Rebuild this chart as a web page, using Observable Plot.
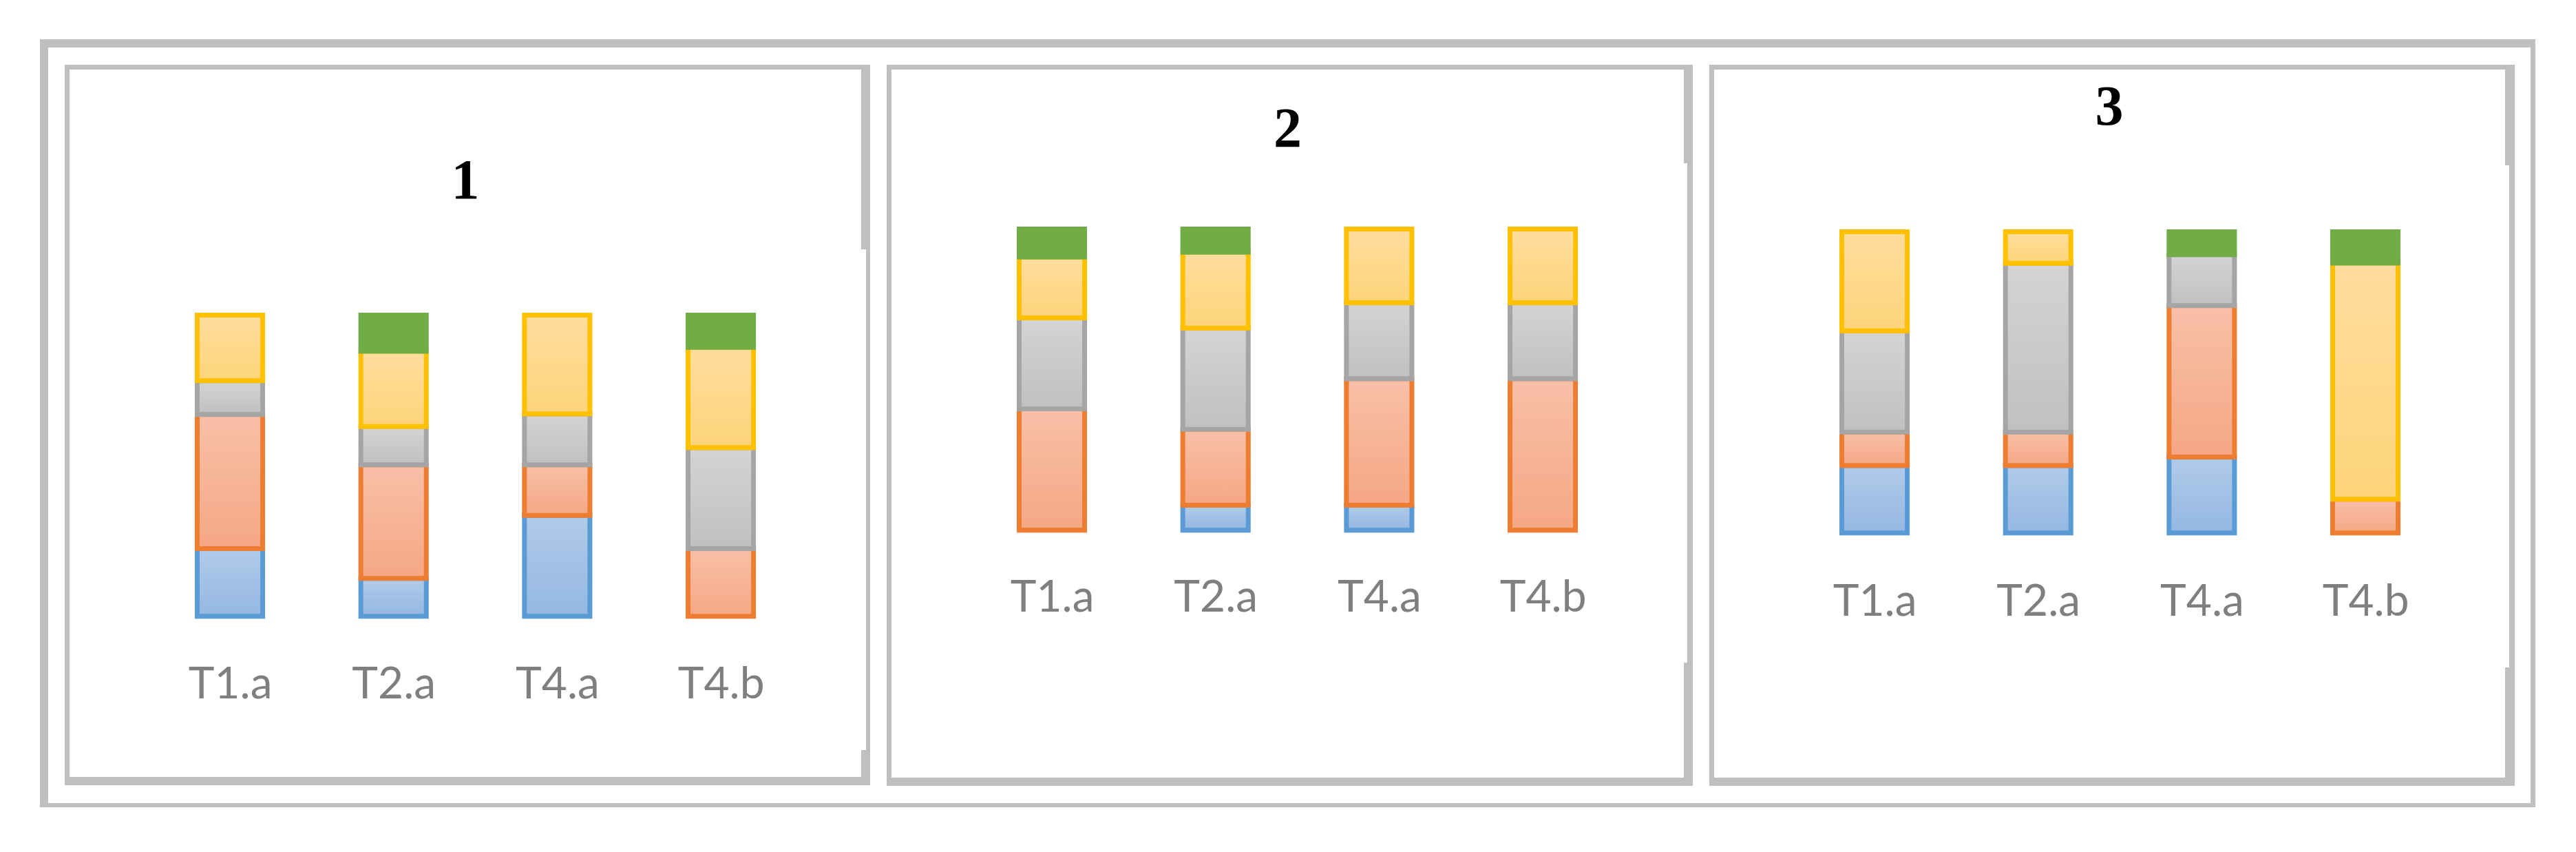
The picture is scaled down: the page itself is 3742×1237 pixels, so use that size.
<!DOCTYPE html>
<html>
<head>
<meta charset="utf-8">
<script src="https://cdn.jsdelivr.net/npm/d3@7"></script>
<script src="https://cdn.jsdelivr.net/npm/@observablehq/plot@0.6"></script>
<style>
  html, body { margin: 0; padding: 0; background: #fff; }
  #root { position: relative; width: 3742px; height: 1237px; overflow: hidden; background: #fff; }
  .frame { position: absolute; box-sizing: border-box; border-style: solid; border-color: #bfbfbf; }
  .strip { position: absolute; background: #bfbfbf; }
  .panel { position: absolute; top: 0; }
  .panel svg { display: block; }
</style>
</head>
<body>
<svg width="0" height="0" style="position:absolute;left:0;top:0">
  <defs>
    <linearGradient id="g-blue" x1="0" y1="0" x2="0" y2="1">
      <stop offset="0" stop-color="#b1cbe9"/><stop offset="1" stop-color="#94b7e2"/>
    </linearGradient>
    <linearGradient id="g-orange" x1="0" y1="0" x2="0" y2="1">
      <stop offset="0" stop-color="#f8c0a8"/><stop offset="1" stop-color="#f5a784"/>
    </linearGradient>
    <linearGradient id="g-gray" x1="0" y1="0" x2="0" y2="1">
      <stop offset="0" stop-color="#d4d4d4"/><stop offset="1" stop-color="#c0c0c0"/>
    </linearGradient>
    <linearGradient id="g-yellow" x1="0" y1="0" x2="0" y2="1">
      <stop offset="0" stop-color="#ffdd9e"/><stop offset="1" stop-color="#fed47a"/>
    </linearGradient>
  </defs>
</svg>
<div id="root"></div>
<script>
// ---------- data ----------
const categories = ["T1.a", "T2.a", "T4.a", "T4.b"];
const seriesNames = ["S1", "S2", "S3", "S4", "S5"];
const panelTitles = ["1", "2", "3"];

// rows = series (S1 bottom ... S5 top), columns = categories; percent of each column
const panel1Values = [
  [22.5, 12.6, 33.5, 0],
  [44.6, 37.7, 16.8, 22.5],
  [11.2, 12.7, 16.9, 33.5],
  [21.8, 25.0, 32.8, 33.3],
  [0, 12.0, 0, 10.7]
];
const panel2Values = [
  [0, 8.3, 8.3, 0],
  [40.3, 25.2, 42.0, 50.3],
  [30.2, 33.6, 25.2, 25.2],
  [20.2, 25.2, 24.5, 24.5],
  [9.3, 7.7, 0, 0]
];
const panel3Values = [
  [22.4, 22.4, 25.2, 0],
  [11.1, 11.1, 50.3, 11.2],
  [33.6, 56.1, 16.9, 0],
  [32.9, 10.5, 0, 78.4],
  [0, 0, 7.6, 10.4]
];

// ---------- styles ----------
const seriesFill = ["url(#g-blue)", "url(#g-orange)", "url(#g-gray)", "url(#g-yellow)", "#70ad47"];
const seriesStroke = ["#5b9bd5", "#ed7d31", "#a5a5a5", "#ffc000", "#70ad47"];

// ---------- layout ----------
const panelLeft = [94, 1288, 2483];
const panelWidth = 1170;
const barTop = [457.5, 332.5, 336.5];
const barBottom = [894.8, 769.8, 773.8];
const labelPad = [73.2, 72.3, 73.8];
const titleBaseline = [287, 212, 180];
const titleCenter = [581.5, 582, 580.5];
const PAGE_H = 1237;
const mLeft = 121.2, mRight = 98.1;

const root = document.getElementById("root");

function addFrame(left, top, width, height, bw) {
  const d = document.createElement("div");
  d.className = "frame";
  Object.assign(d.style, {left: left + "px", top: top + "px", width: width + "px", height: height + "px", borderWidth: bw});
  root.appendChild(d);
}
function addStrip(left, top, width, height) {
  const d = document.createElement("div");
  d.className = "strip";
  Object.assign(d.style, {left: left + "px", top: top + "px", width: width + "px", height: height + "px"});
  root.appendChild(d);
}

// outer frame
addFrame(58, 57, 3625, 1115, "12px 7px 6px 12px");
// panel frames
addFrame(94, 94, 1170, 1046, "7px 6px 12px 7px");
addFrame(1288, 94, 1171, 1047, "7px 8px 12px 7px");
addFrame(2483, 94, 1170, 1047, "7px 8px 12px 7px");
// thicker right-edge segments
addStrip(1251, 94, 7, 268); addStrip(1251, 1089, 7, 51);
addStrip(2446, 94, 6, 143); addStrip(2446, 962, 6, 179);
addStrip(3639, 94, 6, 146); addStrip(3639, 969, 6, 172);

const allValues = [panel1Values, panel2Values, panel3Values];

allValues.forEach((vals, p) => {
  const rows = [];
  seriesNames.forEach((s, i) => {
    categories.forEach((c, j) => {
      const v = vals[i][j];
      if (v > 0) rows.push({category: c, series: s, si: i, value: v});
    });
  });

  const chart = Plot.plot({
    width: panelWidth,
    height: PAGE_H,
    marginTop: barTop[p],
    marginBottom: PAGE_H - barBottom[p],
    marginLeft: mLeft,
    marginRight: mRight,
    style: {background: "transparent", overflow: "visible", fontFamily: "Lato", maxWidth: "none"},
    x: {domain: categories, paddingInner: 0.6, paddingOuter: 0.3, round: false, axis: null},
    y: {domain: [0, 1], axis: null},
    color: {type: "identity"},
    marks: [
      Plot.barY(rows, Plot.stackY({
        x: "category",
        y: "value",
        z: "series",
        offset: "normalize",
        fill: d => seriesFill[d.si],
        stroke: d => seriesStroke[d.si],
        strokeWidth: 7,
        inset: 0
      })),
      Plot.axisX({
        tickSize: 0,
        tickPadding: labelPad[p],
        fontSize: 64,
        fontFamily: "Lato",
        color: "#7f7f7f",
        fill: "#7f7f7f",
        label: null
      }),
      Plot.text([panelTitles[p]], {
        text: d => d,
        frameAnchor: "top-left",
        dx: titleCenter[p] - mLeft,
        dy: titleBaseline[p] - barTop[p],
        textAnchor: "middle",
        lineAnchor: "bottom",
        fontSize: 82,
        fontWeight: "bold",
        fontFamily: "Liberation Serif",
        fill: "#000"
      })
    ]
  });

  const holder = document.createElement("div");
  holder.className = "panel";
  holder.style.left = panelLeft[p] + "px";
  holder.appendChild(chart);
  root.appendChild(holder);
});
</script>
</body>
</html>
